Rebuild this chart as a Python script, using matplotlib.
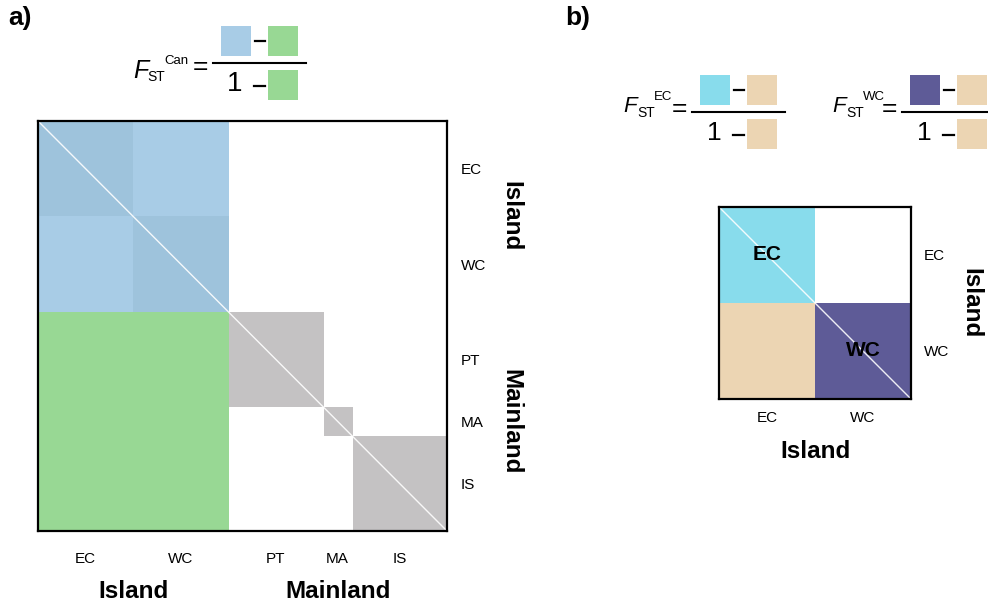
import matplotlib
matplotlib.use("Agg")
import matplotlib.pyplot as plt
import numpy as np
from matplotlib.colors import ListedColormap, BoundaryNorm
from matplotlib.lines import Line2D
from matplotlib.patches import Rectangle

plt.rcParams["font.family"] = ["Liberation Sans", "DejaVu Sans"]

# ---- Data -----------------------------------------------------------------
# Panel a: all five populations, block sizes proportional to sample size
POPS_A = ["EC", "WC", "PT", "MA", "IS"]
SIZES_A = [10, 10, 10, 3, 10]
GROUPS_A = [("Island", 0, 2), ("Mainland", 2, 5)]
# 0 = empty, 1 = within island pop, 2 = between island pops,
# 3 = island vs mainland, 4 = within mainland pop
BLOCKS_A = [
    [1, 2, 0, 0, 0],
    [2, 1, 0, 0, 0],
    [3, 3, 4, 0, 0],
    [3, 3, 0, 4, 0],
    [3, 3, 0, 0, 4],
]
COLORS_A = ["#ffffff", "#9ec3dc", "#a8cce6", "#98d894", "#c4c2c3"]

# Panel b: island populations only
POPS_B = ["EC", "WC"]
SIZES_B = [1, 1]
GROUPS_B = [("Island", 0, 2)]
# 0 = empty, 1 = within EC, 2 = within WC, 3 = between EC and WC
BLOCKS_B = [
    [1, 0],
    [3, 2],
]
COLORS_B = ["#ffffff", "#88dcec", "#5e5b97", "#ecd5b3"]

# ---- Figure ---------------------------------------------------------------
W, H = 988, 608
fig = plt.figure(figsize=(W / 100, H / 100), dpi=100)


def px(x):
    return x / W


def py(y):
    return 1 - y / H


def draw_matrix(ax, blocks, sizes, pops, groups, colors, tick_pad, group_off,
                tick_fs=11, group_fs=17.5, inner_labels=False):
    edges = np.concatenate([[0], np.cumsum(sizes)])
    centers = (edges[:-1] + edges[1:]) / 2
    # expand the block matrix to one cell per individual
    idx = np.repeat(np.arange(len(sizes)), sizes)
    grid = np.array(blocks)[np.ix_(idx, idx)]
    cmap = ListedColormap(colors)
    norm = BoundaryNorm(np.arange(len(colors) + 1) - 0.5, len(colors))
    ax.imshow(grid, cmap=cmap, norm=norm, interpolation="nearest",
              extent=[0, edges[-1], edges[-1], 0], aspect="auto")
    ax.plot([0, edges[-1]], [0, edges[-1]], color="white", lw=1.0, alpha=0.9)
    ax.set_xlim(0, edges[-1])
    ax.set_ylim(edges[-1], 0)

    ax.set_xticks(centers)
    ax.set_xticklabels(pops, fontsize=tick_fs)
    ax.set_yticks(centers)
    ax.set_yticklabels(pops, fontsize=tick_fs)
    ax.yaxis.tick_right()
    ax.tick_params(axis="x", length=0, pad=tick_pad[0])
    ax.tick_params(axis="y", length=0, pad=tick_pad[1])
    for sp in ax.spines.values():
        sp.set_linewidth(1.6)
        sp.set_color("black")

    for name, i0, i1 in groups:
        mid = (edges[i0] + edges[i1]) / 2
        ax.annotate(name, xy=(mid, 0), xycoords=("data", "axes fraction"),
                    xytext=(0, -group_off[0]), textcoords="offset pixels",
                    ha="center", va="center", fontsize=group_fs,
                    fontweight="bold")
        ax.annotate(name, xy=(1, mid), xycoords=("axes fraction", "data"),
                    xytext=(group_off[1], 0), textcoords="offset pixels",
                    ha="center", va="center", fontsize=group_fs,
                    fontweight="bold", rotation=270)

    if inner_labels:
        for i, name in enumerate(pops):
            ax.text(centers[i], centers[i], name, ha="center", va="center",
                    fontsize=15, fontweight="bold")


ax_a = fig.add_axes([px(38), py(531), px(409), 410 / H])
draw_matrix(ax_a, BLOCKS_A, SIZES_A, POPS_A, GROUPS_A, COLORS_A,
            tick_pad=(15, 10), group_off=(61, 64))

ax_b = fig.add_axes([px(719), py(399), px(192), 192 / H])
draw_matrix(ax_b, BLOCKS_B, SIZES_B, POPS_B, GROUPS_B, COLORS_B,
            tick_pad=(9, 9), group_off=(53, 60), inner_labels=True)


# ---- Formulas -------------------------------------------------------------
def square(x, y, color, s=30):
    fig.add_artist(Rectangle((px(x), py(y + s)), s / W, s / H,
                             facecolor=color, edgecolor="none"))


def formula(x0, y0, fx, fy, sup, top_color, bot_color, f_fs, one_fs):
    # x0, y0: left end of the fraction bar (pixels from top-left)
    fig.text(px(fx), py(fy), "F", style="italic", fontsize=f_fs,
             ha="left", va="center")
    fig.text(px(fx + 14), py(fy + 6), "ST", fontsize=10, ha="left", va="center")
    fig.text(px(fx + 31), py(fy - 10), sup, fontsize=9.5, ha="left",
             va="center")
    fig.text(px(x0 - 13), py((fy + y0) / 2), "=", fontsize=19,
             ha="center", va="center")
    square(x0 + 8, y0 - 37, top_color)
    fig.add_artist(Line2D([px(x0 + 42), px(x0 + 52)],
                          [py(y0 - 22), py(y0 - 22)], color="black", lw=1.6))
    square(x0 + 55, y0 - 37, bot_color)
    fig.add_artist(Line2D([px(x0), px(x0 + 93)], [py(y0), py(y0)],
                          color="black", lw=1.5))
    fig.text(px(x0 + 22), py(y0 + 21), "1", fontsize=one_fs,
             ha="center", va="center")
    fig.add_artist(Line2D([px(x0 + 41), px(x0 + 52)],
                          [py(y0 + 23), py(y0 + 23)], color="black", lw=1.6))
    square(x0 + 55, y0 + 7, bot_color)


formula(213, 63, 133, 71, "Can", COLORS_A[2], COLORS_A[3], 18, 20)
formula(692, 112, 623, 107, "EC", COLORS_B[1], COLORS_B[3], 16, 19)
formula(902, 112, 832, 107, "WC", COLORS_B[2], COLORS_B[3], 16, 19)

# ---- Panel labels ---------------------------------------------------------
fig.text(px(8), py(18), "a)", fontsize=19, fontweight="bold",
         ha="left", va="center")
fig.text(px(565), py(18), "b)", fontsize=19, fontweight="bold",
         ha="left", va="center")

fig.savefig("out.png", dpi=100)
plt.close(fig)
